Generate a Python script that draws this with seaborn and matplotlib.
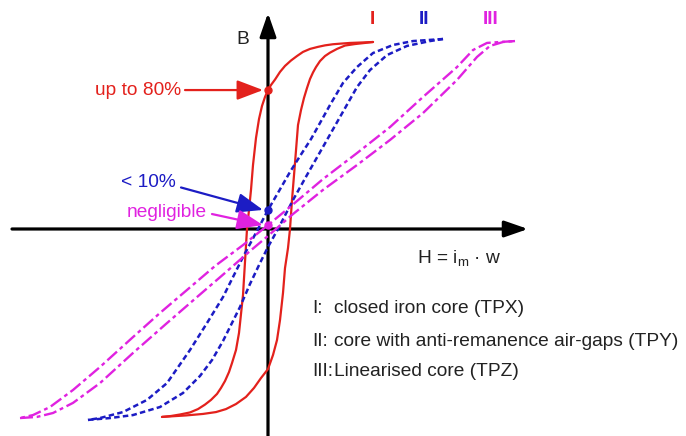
import matplotlib
matplotlib.use("Agg")
import matplotlib.pyplot as plt
import seaborn as sns

# ---- hysteresis loop data (H normalised, B relative to saturation) ----
# I: closed iron core (TPX)
I_down_H = [1.05, 0.92, 0.82, 0.72, 0.65, 0.57, 0.50, 0.42, 0.35, 0.29, 0.23, 0.17, 0.12,
            0.07, 0.03, 0.00, -0.03, -0.06, -0.09, -0.12, -0.15, -0.17, -0.19, -0.21,
            -0.23, -0.25, -0.29, -0.32, -0.36, -0.39, -0.43, -0.47, -0.51, -0.57, -0.63,
            -0.70, -0.78, -0.88, -0.97, -1.06]
I_down_B = [1.000, 0.997, 0.995, 0.991, 0.988, 0.982, 0.974, 0.963, 0.947, 0.925, 0.901,
            0.872, 0.840, 0.799, 0.770, 0.743, 0.706, 0.658, 0.588, 0.487, 0.342, 0.209,
            0.102, 0.000, -0.176, -0.353, -0.556, -0.647, -0.717, -0.765, -0.813, -0.850,
            -0.882, -0.914, -0.939, -0.963, -0.981, -0.992, -1.000, -1.005]
I_up_H = [-1.06, -0.82, -0.65, -0.52, -0.42, -0.32, -0.22, -0.14, -0.07, 0.00, 0.05, 0.09,
          0.12, 0.15, 0.17, 0.20, 0.22, 0.24, 0.27, 0.30, 0.33, 0.36, 0.39, 0.42, 0.45,
          0.48, 0.52, 0.57, 0.62, 0.69, 0.77, 0.87, 0.97, 1.05]
I_up_B = [-1.005, -0.997, -0.989, -0.979, -0.963, -0.936, -0.898, -0.850, -0.797, -0.749,
          -0.674, -0.594, -0.487, -0.342, -0.209, -0.102, 0.000, 0.155, 0.353, 0.556, 0.636,
          0.701, 0.754, 0.802, 0.837, 0.866, 0.898, 0.925, 0.943, 0.963, 0.981, 0.989,
          0.995, 1.000]

# II: core with anti-remanence air-gaps (TPY)
II_down_H = [1.75, 1.45, 1.25, 1.05, 0.89, 0.75, 0.62, 0.52, 0.43, 0.32, 0.22, 0.11, 0.00,
             -0.10, -0.18, -0.25, -0.35, -0.45, -0.61, -0.78, -1.01, -1.21, -1.45, -1.68, -1.80]
II_down_B = [1.016, 1.005, 0.984, 0.941, 0.866, 0.781, 0.663, 0.567, 0.481, 0.390, 0.305,
             0.203, 0.102, 0.000, -0.080, -0.150, -0.257, -0.364, -0.503, -0.647, -0.824,
             -0.914, -0.979, -1.011, -1.021]
II_up_H = [-1.80, -1.58, -1.35, -1.08, -0.85, -0.68, -0.56, -0.45, -0.28, -0.18, -0.08, 0.00,
           0.10, 0.25, 0.39, 0.55, 0.72, 0.89, 1.02, 1.19, 1.39, 1.62, 1.75]
II_up_B = [-1.021, -1.011, -0.995, -0.952, -0.877, -0.786, -0.701, -0.599, -0.417, -0.294,
           -0.182, -0.096, 0.000, 0.155, 0.289, 0.439, 0.599, 0.759, 0.850, 0.930, 0.979,
           1.005, 1.016]

# III: linearised core (TPZ)
III_down_H = [2.47, 2.32, 2.19, 2.05, 1.89, 1.72, 1.55, 1.22, 0.89, 0.55, 0.22, 0.00, -0.25,
              -0.53, -0.81, -1.08, -1.35, -1.68, -1.95, -2.18, -2.35, -2.48]
III_down_B = [1.005, 1.000, 0.995, 0.957, 0.866, 0.786, 0.706, 0.545, 0.406, 0.267, 0.118,
              0.021, -0.086, -0.198, -0.326, -0.449, -0.578, -0.738, -0.861, -0.952, -0.995,
              -1.011]
III_up_H = [-2.48, -2.31, -2.15, -1.95, -1.68, -1.35, -1.01, -0.71, -0.43, -0.18, 0.00, 0.25,
            0.55, 0.89, 1.22, 1.55, 1.89, 2.09, 2.22, 2.35, 2.47]
III_up_B = [-1.011, -1.005, -0.984, -0.930, -0.824, -0.663, -0.503, -0.364, -0.235, -0.118,
            -0.037, 0.080, 0.209, 0.342, 0.476, 0.620, 0.797, 0.920, 0.979, 1.000, 1.005]

# remanence of each core type (B at H = 0 on the descending branch)
remanence = [0.743, 0.102, 0.021]
remanence_labels = ["up to 80%", "< 10%", "negligible"]

core_names = ["I", "II", "III"]
core_descriptions = ["closed iron core (TPX)",
                     "core with anti-remanence air-gaps (TPY)",
                     "Linearised core (TPZ)"]

RED = "#e3211c"
BLUE = "#1c1cc4"
MAGENTA = "#e022e0"
colors = [RED, BLUE, MAGENTA]
styles = ["-", (0, (2.2, 1.3)), (0, (5.5, 1.6, 1.6, 1.6))]
widths = [1.6, 1.8, 1.7]
FS = 13.8

sns.set_style("white")
plt.rcParams["font.family"] = ["Liberation Sans", "DejaVu Sans"]
plt.rcParams["mathtext.default"] = "regular"

fig = plt.figure(figsize=(6.86, 4.36), dpi=100)
ax = fig.add_axes([0, 0, 1, 1])
ax.set_xlim(-2.68, 4.18)
ax.set_ylim(-1.107, 1.2246)
ax.axis("off")

# coordinate axes with arrow heads
axis_arrow = dict(arrowstyle="-|>,head_length=0.95,head_width=0.33",
                  lw=2.3, color="black", mutation_scale=15, shrinkA=0, shrinkB=0)
ax.annotate("", xy=(2.60, 0), xytext=(-2.56, 0), arrowprops=axis_arrow, zorder=1)
ax.annotate("", xy=(0, 1.155), xytext=(0, -1.12), arrowprops=axis_arrow, zorder=1)

branches = [
    (I_down_H, I_down_B, I_up_H, I_up_B),
    (II_down_H, II_down_B, II_up_H, II_up_B),
    (III_down_H, III_down_B, III_up_H, III_up_B),
]
for (dh, db, uh, ub), col, ls, lw in zip(branches, colors, styles, widths):
    for hx, by in ((dh, db), (uh, ub)):
        sns.lineplot(x=hx, y=by, sort=False, estimator=None, ax=ax,
                     color=col, linestyle=ls, linewidth=lw, zorder=3)

# loop names above the saturation ends
name_pos = [1.04, 1.56, 2.23]
for nm, hx, col in zip(core_names, name_pos, colors):
    ax.text(hx, 1.122, nm, color=col, fontsize=FS, fontweight="bold",
            ha="center", va="center")

# remanence markers and their labels
text_pos = [(-0.87, 0.743), (-0.92, 0.246), (-0.61, 0.086)]
tail_pos = [(-0.83, 0.743), (-0.87, 0.222), (-0.56, 0.080)]
for br, lab, col, tp, tl in zip(remanence, remanence_labels, colors, text_pos, tail_pos):
    ax.plot([0], [br], marker="o", markersize=5, color=col,
            markeredgecolor=col, zorder=5)
    ax.text(tp[0], tp[1], lab, color=col, fontsize=FS, ha="right", va="center")
    ax.annotate("", xy=(-0.05, br), xytext=tl,
                arrowprops=dict(arrowstyle="-|>,head_length=1.0,head_width=0.38",
                                lw=1.6, color=col, mutation_scale=16,
                                shrinkA=0, shrinkB=0), zorder=4)

# axis titles
ax.text(-0.25, 1.011, "B", fontsize=FS, ha="center", va="center", color="#222222")
ax.text(1.91, -0.155, "H = i$_{m}$ · w", fontsize=FS, ha="center", va="center",
        color="#222222")

# key to the three core types
key_y = [-0.425, -0.604, -0.764]
for nm, desc, ky in zip(core_names, core_descriptions, key_y):
    ax.text(0.44, ky, nm + ":", fontsize=FS, ha="left", va="center", color="#222222")
    ax.text(0.665, ky, desc, fontsize=FS, ha="left", va="center", color="#222222")

fig.savefig("out.png", dpi=100)
